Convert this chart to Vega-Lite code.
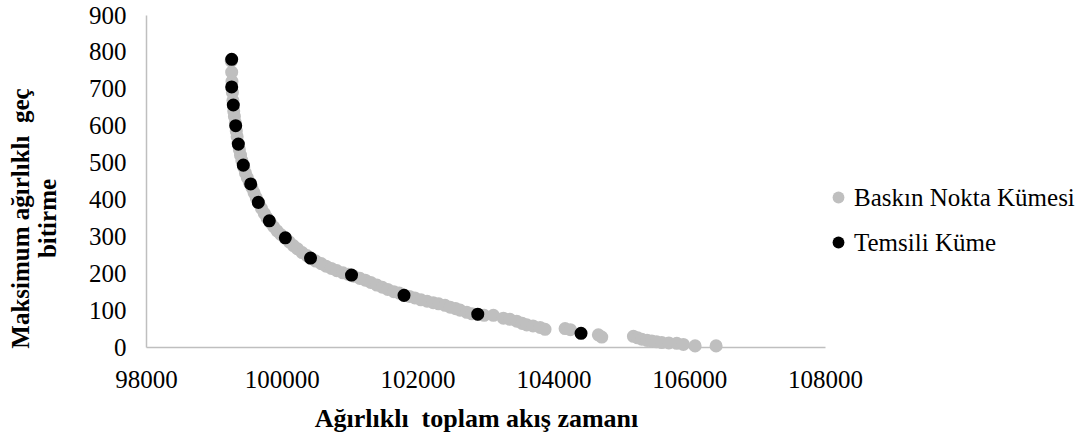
{
  "$schema": "https://vega.github.io/schema/vega-lite/v6.json",
  "autosize": {"type": "none"},
  "padding": {"left": 146, "top": 15, "right": 262, "bottom": 91},
  "width": 679,
  "height": 332,
  "background": "white",
  "config": {"view": {"stroke": null}},
  "data": {"values": [
    {"x": 99255, "y": 775, "kume": "Baskın Nokta Kümesi"},
    {"x": 99262, "y": 745, "kume": "Baskın Nokta Kümesi"},
    {"x": 99266, "y": 720, "kume": "Baskın Nokta Kümesi"},
    {"x": 99272, "y": 690, "kume": "Baskın Nokta Kümesi"},
    {"x": 99280, "y": 668, "kume": "Baskın Nokta Kümesi"},
    {"x": 99292, "y": 640, "kume": "Baskın Nokta Kümesi"},
    {"x": 99302, "y": 625, "kume": "Baskın Nokta Kümesi"},
    {"x": 99316, "y": 608, "kume": "Baskın Nokta Kümesi"},
    {"x": 99330, "y": 585, "kume": "Baskın Nokta Kümesi"},
    {"x": 99342, "y": 570, "kume": "Baskın Nokta Kümesi"},
    {"x": 99356, "y": 553, "kume": "Baskın Nokta Kümesi"},
    {"x": 99375, "y": 535, "kume": "Baskın Nokta Kümesi"},
    {"x": 99392, "y": 520, "kume": "Baskın Nokta Kümesi"},
    {"x": 99412, "y": 505, "kume": "Baskın Nokta Kümesi"},
    {"x": 99440, "y": 487, "kume": "Baskın Nokta Kümesi"},
    {"x": 99465, "y": 472, "kume": "Baskın Nokta Kümesi"},
    {"x": 99492, "y": 459, "kume": "Baskın Nokta Kümesi"},
    {"x": 99522, "y": 447, "kume": "Baskın Nokta Kümesi"},
    {"x": 99560, "y": 432, "kume": "Baskın Nokta Kümesi"},
    {"x": 99592, "y": 418, "kume": "Baskın Nokta Kümesi"},
    {"x": 99625, "y": 404, "kume": "Baskın Nokta Kümesi"},
    {"x": 99660, "y": 390, "kume": "Baskın Nokta Kümesi"},
    {"x": 99700, "y": 376, "kume": "Baskın Nokta Kümesi"},
    {"x": 99742, "y": 362, "kume": "Baskın Nokta Kümesi"},
    {"x": 99782, "y": 350, "kume": "Baskın Nokta Kümesi"},
    {"x": 99830, "y": 338, "kume": "Baskın Nokta Kümesi"},
    {"x": 99880, "y": 326, "kume": "Baskın Nokta Kümesi"},
    {"x": 99930, "y": 315, "kume": "Baskın Nokta Kümesi"},
    {"x": 99985, "y": 305, "kume": "Baskın Nokta Kümesi"},
    {"x": 100050, "y": 295, "kume": "Baskın Nokta Kümesi"},
    {"x": 100110, "y": 285, "kume": "Baskın Nokta Kümesi"},
    {"x": 100170, "y": 275, "kume": "Baskın Nokta Kümesi"},
    {"x": 100232, "y": 266, "kume": "Baskın Nokta Kümesi"},
    {"x": 100300, "y": 256, "kume": "Baskın Nokta Kümesi"},
    {"x": 100370, "y": 248, "kume": "Baskın Nokta Kümesi"},
    {"x": 100430, "y": 240, "kume": "Baskın Nokta Kümesi"},
    {"x": 100500, "y": 233, "kume": "Baskın Nokta Kümesi"},
    {"x": 100580, "y": 226, "kume": "Baskın Nokta Kümesi"},
    {"x": 100652, "y": 219, "kume": "Baskın Nokta Kümesi"},
    {"x": 100730, "y": 213, "kume": "Baskın Nokta Kümesi"},
    {"x": 100810, "y": 207, "kume": "Baskın Nokta Kümesi"},
    {"x": 100900, "y": 201, "kume": "Baskın Nokta Kümesi"},
    {"x": 100980, "y": 197, "kume": "Baskın Nokta Kümesi"},
    {"x": 101060, "y": 192, "kume": "Baskın Nokta Kümesi"},
    {"x": 101150, "y": 186, "kume": "Baskın Nokta Kümesi"},
    {"x": 101230, "y": 181, "kume": "Baskın Nokta Kümesi"},
    {"x": 101310, "y": 175, "kume": "Baskın Nokta Kümesi"},
    {"x": 101400, "y": 168, "kume": "Baskın Nokta Kümesi"},
    {"x": 101480, "y": 162, "kume": "Baskın Nokta Kümesi"},
    {"x": 101560, "y": 156, "kume": "Baskın Nokta Kümesi"},
    {"x": 101650, "y": 150, "kume": "Baskın Nokta Kümesi"},
    {"x": 101730, "y": 146, "kume": "Baskın Nokta Kümesi"},
    {"x": 101800, "y": 141, "kume": "Baskın Nokta Kümesi"},
    {"x": 101880, "y": 137, "kume": "Baskın Nokta Kümesi"},
    {"x": 101960, "y": 133, "kume": "Baskın Nokta Kümesi"},
    {"x": 102050, "y": 128, "kume": "Baskın Nokta Kümesi"},
    {"x": 102140, "y": 124, "kume": "Baskın Nokta Kümesi"},
    {"x": 102230, "y": 120, "kume": "Baskın Nokta Kümesi"},
    {"x": 102310, "y": 117, "kume": "Baskın Nokta Kümesi"},
    {"x": 102404, "y": 113, "kume": "Baskın Nokta Kümesi"},
    {"x": 102480, "y": 108, "kume": "Baskın Nokta Kümesi"},
    {"x": 102560, "y": 104, "kume": "Baskın Nokta Kümesi"},
    {"x": 102625, "y": 100, "kume": "Baskın Nokta Kümesi"},
    {"x": 102724, "y": 94, "kume": "Baskın Nokta Kümesi"},
    {"x": 102800, "y": 90, "kume": "Baskın Nokta Kümesi"},
    {"x": 102890, "y": 88, "kume": "Baskın Nokta Kümesi"},
    {"x": 102980, "y": 86, "kume": "Baskın Nokta Kümesi"},
    {"x": 103116, "y": 86, "kume": "Baskın Nokta Kümesi"},
    {"x": 103263, "y": 78, "kume": "Baskın Nokta Kümesi"},
    {"x": 103360, "y": 75, "kume": "Baskın Nokta Kümesi"},
    {"x": 103460, "y": 70, "kume": "Baskın Nokta Kümesi"},
    {"x": 103540, "y": 64, "kume": "Baskın Nokta Kümesi"},
    {"x": 103608, "y": 60, "kume": "Baskın Nokta Kümesi"},
    {"x": 103700, "y": 57, "kume": "Baskın Nokta Kümesi"},
    {"x": 103804, "y": 53, "kume": "Baskın Nokta Kümesi"},
    {"x": 103877, "y": 48, "kume": "Baskın Nokta Kümesi"},
    {"x": 104172, "y": 50, "kume": "Baskın Nokta Kümesi"},
    {"x": 104250, "y": 47, "kume": "Baskın Nokta Kümesi"},
    {"x": 104662, "y": 33, "kume": "Baskın Nokta Kümesi"},
    {"x": 104712, "y": 27, "kume": "Baskın Nokta Kümesi"},
    {"x": 105178, "y": 29, "kume": "Baskın Nokta Kümesi"},
    {"x": 105240, "y": 25, "kume": "Baskın Nokta Kümesi"},
    {"x": 105302, "y": 21, "kume": "Baskın Nokta Kümesi"},
    {"x": 105380, "y": 18, "kume": "Baskın Nokta Kümesi"},
    {"x": 105449, "y": 16, "kume": "Baskın Nokta Kümesi"},
    {"x": 105520, "y": 14, "kume": "Baskın Nokta Kümesi"},
    {"x": 105596, "y": 12, "kume": "Baskın Nokta Kümesi"},
    {"x": 105700, "y": 11, "kume": "Baskın Nokta Kümesi"},
    {"x": 105817, "y": 10, "kume": "Baskın Nokta Kümesi"},
    {"x": 105914, "y": 7, "kume": "Baskın Nokta Kümesi"},
    {"x": 106087, "y": 3, "kume": "Baskın Nokta Kümesi"},
    {"x": 106396, "y": 3, "kume": "Baskın Nokta Kümesi"},
    {"x": 99262, "y": 780, "kume": "Temsili Küme"},
    {"x": 99262, "y": 705, "kume": "Temsili Küme"},
    {"x": 99286, "y": 656, "kume": "Temsili Küme"},
    {"x": 99321, "y": 600, "kume": "Temsili Küme"},
    {"x": 99360, "y": 550, "kume": "Temsili Küme"},
    {"x": 99433, "y": 493, "kume": "Temsili Küme"},
    {"x": 99542, "y": 442, "kume": "Temsili Küme"},
    {"x": 99654, "y": 392, "kume": "Temsili Küme"},
    {"x": 99816, "y": 342, "kume": "Temsili Küme"},
    {"x": 100052, "y": 296, "kume": "Temsili Küme"},
    {"x": 100423, "y": 241, "kume": "Temsili Küme"},
    {"x": 101027, "y": 195, "kume": "Temsili Küme"},
    {"x": 101800, "y": 140, "kume": "Temsili Küme"},
    {"x": 102886, "y": 89, "kume": "Temsili Küme"},
    {"x": 104407, "y": 37, "kume": "Temsili Küme"}
  ]},
  "mark": {"type": "point", "shape": "circle", "filled": true, "opacity": 1, "size": 170},
  "encoding": {
    "x": {
      "field": "x", "type": "quantitative",
      "scale": {"domain": [98000, 108000], "nice": false, "zero": false},
      "axis": {
        "values": [98000, 100000, 102000, 104000, 106000, 108000],
        "format": "d",
        "grid": false, "ticks": false, "tickSize": 0,
        "domainColor": "#BFBFBF", "domainWidth": 1.5,
        "labelFont": "Liberation Serif", "labelFontSize": 25, "labelColor": "#000000",
        "labelPadding": 20, "labelFlush": false,
        "title": "Ağırlıklı \u00a0toplam akış zamanı",
        "titleFont": "Liberation Serif", "titleFontSize": 26, "titleFontWeight": "bold", "titleColor": "#000000",
        "titleX": 330, "titleY": 79, "titleBaseline": "alphabetic", "titleAlign": "center"
      }
    },
    "y": {
      "field": "y", "type": "quantitative",
      "scale": {"domain": [0, 900], "nice": false},
      "axis": {
        "values": [0, 100, 200, 300, 400, 500, 600, 700, 800, 900],
        "format": "d",
        "grid": false, "ticks": false, "tickSize": 0,
        "domainColor": "#BFBFBF", "domainWidth": 1.5,
        "labelFont": "Liberation Serif", "labelFontSize": 25, "labelColor": "#000000",
        "labelPadding": 20, "labelFlush": false,
        "title": ["Maksimum ağırlıklı \u00a0geç", "bitirme"],
        "titleFont": "Liberation Serif", "titleFontSize": 25, "titleFontWeight": "bold", "titleColor": "#000000",
        "titleAngle": -90, "titleX": -118, "titleY": 203, "titleBaseline": "alphabetic", "titleAlign": "center",
        "titleLineHeight": 27
      }
    },
    "color": {
      "field": "kume", "type": "nominal",
      "scale": {"domain": ["Baskın Nokta Kümesi", "Temsili Küme"], "range": ["#BFBFBF", "#000000"]},
      "legend": {
        "title": null, "orient": "none", "legendX": 680, "legendY": 170,
        "symbolType": "circle", "symbolSize": 140, "symbolStrokeWidth": 0,
        "labelFont": "Liberation Serif", "labelFontSize": 25, "labelColor": "#000000",
        "labelLimit": 0, "labelOffset": 3, "rowPadding": 19, "padding": 0
      }
    }
  }
}
